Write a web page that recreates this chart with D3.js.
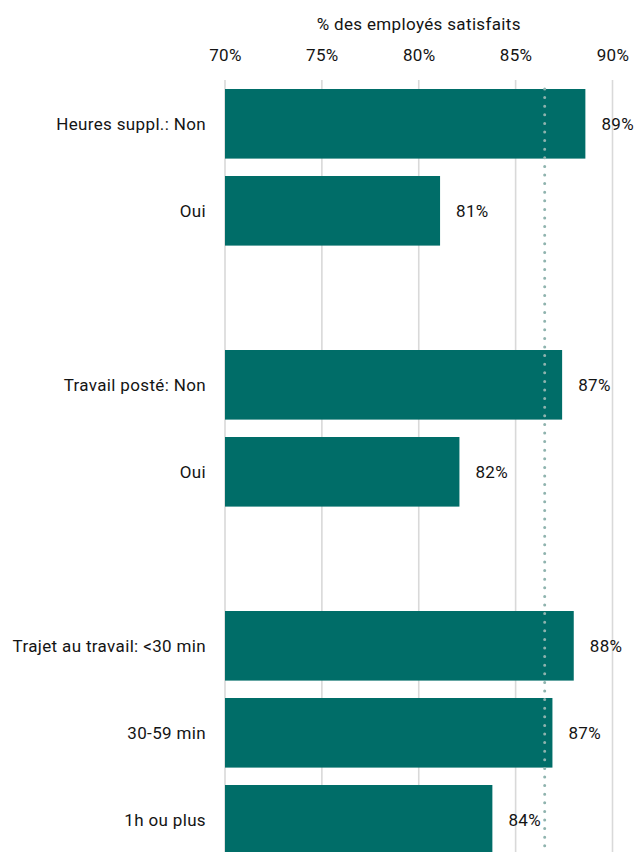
<!DOCTYPE html>
<html>
<head>
<meta charset="utf-8">
<script src="https://cdn.jsdelivr.net/npm/d3@7"></script>
<style>
  html, body { margin: 0; padding: 0; background: #fff; }
  svg { display: block; font-family: "Roboto", "Noto Sans", sans-serif; }
</style>
</head>
<body>
<div id="chart"></div>
<script>
// Data
const categories = ["Heures suppl.: Non", "Oui", "", "Travail posté: Non", "Oui ", " ", "Trajet au travail: <30 min", "30-59 min", "1h ou plus"];
const values = [88.6, 81.1, null, 87.4, 82.1, null, 88.0, 86.9, 83.8];
const valueLabels = ["89%", "81%", "", "87%", "82%", "", "88%", "87%", "84%"];
const tickValues = [70, 75, 80, 85, 90];
const tickLabels = ["70%", "75%", "80%", "85%", "90%"];
const referenceValue = 86.5;
const axisTitle = "% des employés satisfaits";

const width = 636, height = 852;
const svg = d3.select("#chart").append("svg").attr("width", width).attr("height", height);

const x = d3.scaleLinear().domain([70, 90]).range([225, 612.5]);
const y = d3.scaleBand().domain(categories).range([89, 89 + 8.8 * 87]).paddingInner(0.2).paddingOuter(0);

const textColor = "#141414";
const fs = 17, ls = "0.35px";

// gridlines
svg.append("g").selectAll("line").data(tickValues).join("line")
  .attr("x1", d => x(d)).attr("x2", d => x(d))
  .attr("y1", 80).attr("y2", height)
  .attr("stroke", "#d9d9d9").attr("stroke-width", 1.6);

// top axis labels
const axis = d3.axisTop(x).tickValues(tickValues).tickFormat((d, i) => tickLabels[i]).tickSize(0).tickPadding(0);
const ax = svg.append("g").attr("transform", "translate(0,61)").call(axis);
ax.select(".domain").remove();
ax.selectAll("text").attr("font-size", fs).attr("letter-spacing", ls).attr("fill", textColor).attr("font-family", "Roboto, sans-serif");

svg.append("text").attr("x", x(80)).attr("y", 30).attr("text-anchor", "middle")
  .attr("font-size", fs).attr("letter-spacing", ls).attr("fill", textColor).text(axisTitle);

const rows = categories.map((c, i) => ({ c, v: values[i], l: valueLabels[i] })).filter(d => d.v !== null);

// bars
svg.append("g").selectAll("rect").data(rows).join("rect")
  .attr("x", x(70)).attr("y", d => y(d.c))
  .attr("width", d => x(d.v) - x(70)).attr("height", y.bandwidth())
  .attr("fill", "#006d68");

// category labels
svg.append("g").selectAll("text").data(rows).join("text")
  .attr("x", 206).attr("y", d => y(d.c) + y.bandwidth() / 2)
  .attr("dy", "0.35em").attr("text-anchor", "end")
  .attr("font-size", fs).attr("letter-spacing", ls).attr("fill", textColor).text(d => d.c.trim());

// value labels
svg.append("g").selectAll("text").data(rows).join("text")
  .attr("x", d => x(d.v) + 16).attr("y", d => y(d.c) + y.bandwidth() / 2)
  .attr("dy", "0.35em").attr("text-anchor", "start")
  .attr("font-size", fs).attr("letter-spacing", ls).attr("fill", textColor).text(d => d.l);

// reference dotted line
svg.append("line")
  .attr("x1", x(referenceValue)).attr("x2", x(referenceValue))
  .attr("y1", 89).attr("y2", height)
  .attr("stroke", "#8fb3ae").attr("stroke-width", 3)
  .attr("stroke-linecap", "round").attr("stroke-dasharray", "0,8.6");
</script>
</body>
</html>
